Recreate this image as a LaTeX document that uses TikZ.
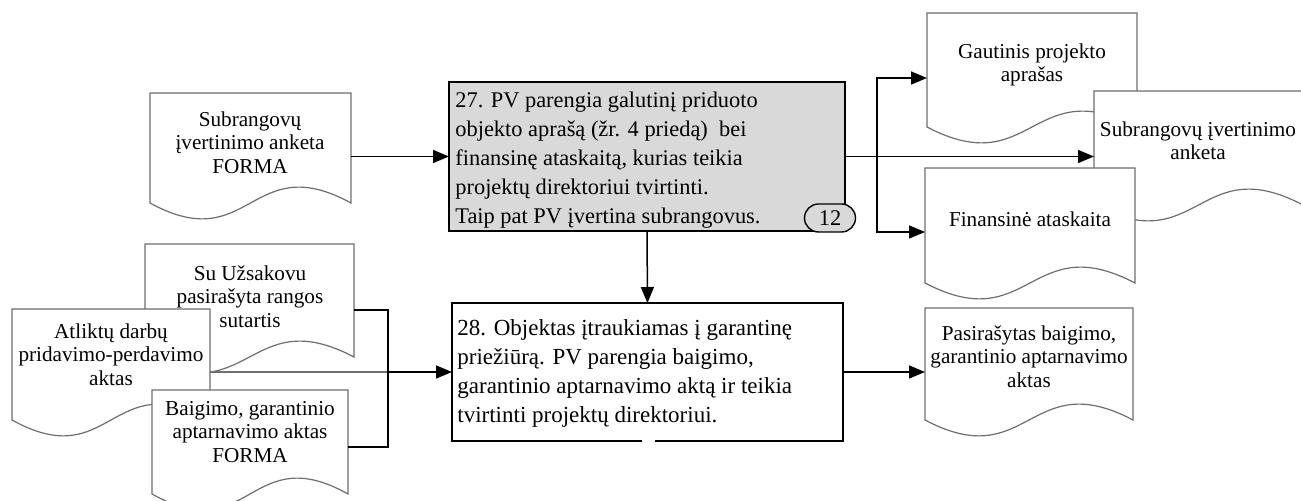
\documentclass[tikz,border=0pt]{standalone}
\usepackage{fontspec}
\setmainfont{Liberation Serif}
\usetikzlibrary{arrows.meta,fit}

\definecolor{docgray}{RGB}{110,110,110}
\definecolor{boxgray}{RGB}{217,217,217}

\tikzset{
  docline/.style={draw=docgray, line width=0.6pt, fill=white},
  docframe/.style={inner sep=0pt, outer sep=0pt},
  doctext/.style={font=\fontsize{10.6}{11.75}\selectfont, align=center, inner sep=0pt, anchor=north},
  procbox/.style={draw=black, line width=1pt, inner sep=0pt, outer sep=0pt},
  proctext/.style={font=\fontsize{11.5}{14.5}\selectfont, align=left, inner sep=0pt, anchor=north west},
  badge/.style={draw=black, line width=0.7pt, fill=boxgray, rounded corners=7pt,
                minimum width=25.5pt, minimum height=14pt, inner sep=0pt,
                font=\fontsize{11.2}{13}\selectfont},
  flow/.style={draw=black, line width=0.75pt, -{Triangle[length=8pt,width=6.5pt]}},
  link/.style={draw=black, line width=0.75pt},
  graylink/.style={draw=docgray, line width=0.75pt},
}

% document sheet: name, left, top, right, side-bottom (wavy lower edge)
\newcommand\docsheet[5]{%
  \path[docline] (#2,#3) -- (#4,#3) -- (#4,#5)
     .. controls ({(#2+#4)/2},{#5-55}) and ({(#2+#4)/2},{#5+55}) .. (#2,#5) -- cycle;
  \path (#2,#3) coordinate (#1-nw) (#4,#5) coordinate (#1-se);
  \node[docframe, fit=(#1-nw)(#1-se)] (#1) {};
}

\begin{document}
\begin{tikzpicture}[x=0.5pt, y=-0.5pt]
\useasboundingbox (0,0) rectangle (1301,501);
\clip (0,0) rectangle (1301,501);

% ---- process steps ----
\node[procbox, fill=boxgray, minimum width=198pt, minimum height=74.5pt] (p27) at (647,156.5) {};
\node[proctext, font=\fontsize{11.2}{14.5}\selectfont] (t27) at (455,92) {27. PV parengia galutinį priduoto\\
  objekto aprašą (žr. 4 priedą)\ \ bei\\
  finansinę ataskaitą, kurias teikia\\
  projektų direktoriui tvirtinti.\\
  Taip pat PV įvertina subrangovus.};
\node[badge] (n12) at (830,218) {12};

\node[procbox, fill=white, minimum width=195.5pt, minimum height=69pt] (p28) at (647.5,372) {};
\draw[white, line width=1.5pt] ([xshift=-2.75pt]p28.south) -- ([xshift=3.75pt]p28.south);
\node[proctext] (t28) at (457,319) {28. Objektas įtraukiamas į garantinę\\
  priežiūrą. PV parengia baigimo,\\
  garantinio aptarnavimo aktą ir teikia\\
  tvirtinti projektų direktoriui.};

% ---- input documents ----
\docsheet{form1}{150}{93}{351}{203}
\node[doctext] (tform1) at (250,111) {Subrangovų\\įvertinimo anketa\\FORMA};

\docsheet{contract}{145}{244}{354}{357}
\node[doctext] (tcontract) at (250,265) {Su Užsakovu\\pasirašyta rangos\\sutartis};

\docsheet{acts}{12}{309}{210}{420}
\node[doctext] (tacts) at (111,323) {Atliktų darbų\\pridavimo-perdavimo\\aktas};

\docsheet{finalform}{152}{390}{348}{494}
\node[doctext] (tfinalform) at (250,401) {Baigimo, garantinio\\aptarnavimo aktas\\FORMA};

% ---- output documents ----
\docsheet{gaut}{927}{13}{1137}{127}
\node[doctext] (tgaut) at (1032,43) {Gautinis projekto\\aprašas};

\docsheet{anketa}{1094}{91}{1303}{205}
\node[doctext] (tanketa) at (1198,121) {Subrangovų įvertinimo\\anketa};

\docsheet{fin}{925}{168}{1135}{283}
\node[doctext] (tfin) at (1030,211) {Finansinė ataskaita};

\docsheet{sign}{925}{308}{1133}{420}
\node[doctext] (tsign) at (1029,325) {Pasirašytas baigimo,\\garantinio aptarnavimo\\aktas};

% ---- connectors ----
\draw[flow] (form1.east |- p27.west) -- (p27.west);

\coordinate (fork) at ([xshift=16pt]p27.east);
\draw[flow] (p27.east) -- (anketa.west |- p27.east);
\draw[flow] (fork) |- ([yshift=-4pt]gaut.west);
\draw[flow] (fork) |- ([yshift=-3.25pt]fin.west);

\draw[flow] (p27.south) -- (p28.north);
\draw[flow] (p28.east) -- (sign.west |- p28.east);

\coordinate (jtop) at (388,310);
\coordinate (jbot) at (388,447);
\draw[graylink] (acts.east |- p28.west) -- (p28.west -| jtop);
\draw[link] (contract.east |- jtop) -- (jtop) -- (jbot) -- (finalform.east |- jbot);
\draw[flow] (p28.west -| jtop) -- (p28.west);
\end{tikzpicture}
\end{document}
